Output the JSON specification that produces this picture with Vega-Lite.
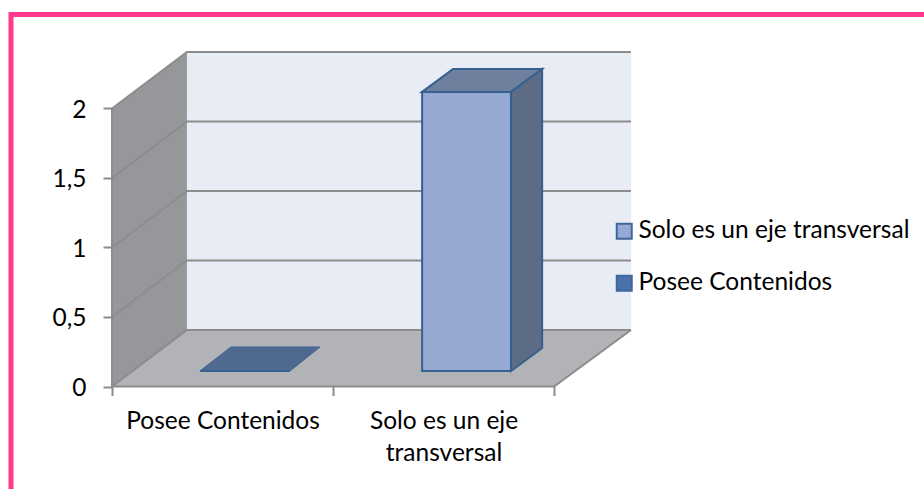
{
"$schema":"https://vega.github.io/schema/vega-lite/v6.json",
"width":519,"height":334.5,
"autosize":{"type":"none"},
"padding":{"left":112,"top":52,"right":293,"bottom":102.5},
"background":"white",
"config":{"view":{"stroke":null},"font":"Lato"},
"encoding":{
 "x":{"field":"x","type":"quantitative","scale":{"domain":[0,2.348],"nice":false,"zero":false},
  "axis":{"title":null,"grid":false,"domain":false,"values":[0,0.5,1,1.5,2],"tickSize":9,"tickWidth":2,"tickColor":"#8C8C8C",
   "tickOpacity":{"condition":{"test":"datum.value==0||datum.value==1||datum.value==2","value":1},"value":0},
   "labelExpr":"datum.value==0.5?'Posee Contenidos':datum.value==1.5?['Solo es un eje','transversal']:''",
   "labelFont":"Lato","labelFontSize":24.5,"labelColor":"#000000","labelPadding":14,"labelLineHeight":32,"labelOverlap":false,"labelFlush":false,"labelBound":false,"labelLimit":300}},
 "y":{"field":"y","type":"quantitative","scale":{"domain":[0,2.406],"nice":false,"zero":false},
  "axis":{"title":null,"grid":false,"domain":false,"values":[0,0.5,1,1.5,2],"tickSize":9,"tickWidth":2,"tickColor":"#8C8C8C",
   "labelExpr":"replace(format(datum.value,'~g'),'.',',')",
   "labelFont":"Lato","labelFontSize":24.5,"labelColor":"#000000","labelPadding":17,"labelOffset":2,"labelOverlap":false,"labelBound":false}}
},
"layer":[
 {"data":{"values":[{"x":0.339,"x2":2.348,"y":0.4065,"y2":2.406}]},
  "mark":{"type":"rect","fill":"#E8ECF5"},
  "encoding":{"x2":{"field":"x2"},"y2":{"field":"y2"}}},
 {"data":{"values":[{"x":0,"y":0,"y2":2},{"x":0.339,"y":0.4065,"y2":2.406}]},
  "mark":{"type":"area","fill":"#96979A","opacity":1},
  "encoding":{"y2":{"field":"y2"}}},
 {"data":{"values":[{"x":0,"y":0,"y2":0},{"x":0.339,"y":0.4065,"y2":0},{"x":2,"y":0.4065,"y2":0},{"x":2.348,"y":0.4065,"y2":0.4065}]},
  "mark":{"type":"area","fill":"#B1B3B6","opacity":1},
  "encoding":{"y2":{"field":"y2"}}},
 {"data":{"values":[
  {"s":"g0","i":1,"x":0,"y":0},{"s":"g0","i":2,"x":0.339,"y":0.4065},{"s":"g0","i":3,"x":2.348,"y":0.4065},
  {"s":"g05","i":1,"x":0,"y":0.5},{"s":"g05","i":2,"x":0.339,"y":0.9065},{"s":"g05","i":3,"x":2.348,"y":0.9065},
  {"s":"g1","i":1,"x":0,"y":1},{"s":"g1","i":2,"x":0.339,"y":1.4065},{"s":"g1","i":3,"x":2.348,"y":1.4065},
  {"s":"g15","i":1,"x":0,"y":1.5},{"s":"g15","i":2,"x":0.339,"y":1.9065},{"s":"g15","i":3,"x":2.348,"y":1.9065},
  {"s":"g2","i":1,"x":0,"y":2},{"s":"g2","i":2,"x":0.339,"y":2.406},{"s":"g2","i":3,"x":2.348,"y":2.406},
  {"s":"front","i":1,"x":0,"y":2},{"s":"front","i":2,"x":0,"y":0},{"s":"front","i":3,"x":2,"y":0},{"s":"front","i":4,"x":2.348,"y":0.4065}
  ]},
  "mark":{"type":"line","color":"#8C8C8C","strokeWidth":2},
  "encoding":{"detail":{"field":"s"},"order":{"field":"i"}}},
 {"data":{"values":[{"x":1.403,"y":2.119,"y2":2.119},{"x":1.543,"y":2.284,"y2":2.119},{"x":1.805,"y":2.284,"y2":2.119},{"x":1.946,"y":2.284,"y2":2.284}]},
  "mark":{"type":"area","fill":"#6F7F9E","stroke":"#35608F","strokeWidth":2,"opacity":1},
  "encoding":{"y2":{"field":"y2"}}},
 {"data":{"values":[{"x":1.805,"y":2.119,"y2":0.1115},{"x":1.946,"y":2.284,"y2":0.277}]},
  "mark":{"type":"area","fill":"#5D6C85","stroke":"#35608F","strokeWidth":2,"opacity":1},
  "encoding":{"y2":{"field":"y2"}}},
 {"data":{"values":[{"x":0.398,"y":0.1115,"y2":0.1115},{"x":0.538,"y":0.284,"y2":0.1115},{"x":0.805,"y":0.284,"y2":0.1115},{"x":0.941,"y":0.284,"y2":0.284}]},
  "mark":{"type":"area","fill":"#50698F","stroke":"#3A6499","strokeWidth":1,"opacity":1},
  "encoding":{"y2":{"field":"y2"}}},
 {"data":{"values":[
   {"serie":"Solo es un eje transversal","x":1.403,"x2":1.805,"y":0.1115,"y2":2.119},
   {"serie":"Posee Contenidos","x":0.398,"x2":0.805,"y":0.1115,"y2":0.1115}]},
  "mark":{"type":"rect","stroke":"#35608F","strokeWidth":2,"opacity":1},
  "encoding":{"x2":{"field":"x2"},"y2":{"field":"y2"},
   "fill":{"field":"serie","type":"nominal","scale":{"domain":["Solo es un eje transversal","Posee Contenidos"],"range":["#95A9D2","#4A72A8"]},
    "legend":{"title":null,"orient":"none","legendX":500,"legendY":167,"symbolType":"square","symbolSize":225,"symbolStrokeColor":"#3F679A","symbolStrokeWidth":2,"symbolOpacity":1,"labelFont":"Lato","labelFontSize":24.5,"labelColor":"#000000","labelOffset":2,"rowPadding":27,"labelLimit":320}}}},
 {"data":{"values":[{"i":1,"x":-0.457,"y":-0.737},{"i":2,"x":-0.457,"y":2.676},{"i":3,"x":3.674,"y":2.676}]},
  "mark":{"type":"line","color":"#FF3A8C","strokeWidth":5,"strokeJoin":"miter","clip":false},
  "encoding":{"order":{"field":"i"}}}
]
}
